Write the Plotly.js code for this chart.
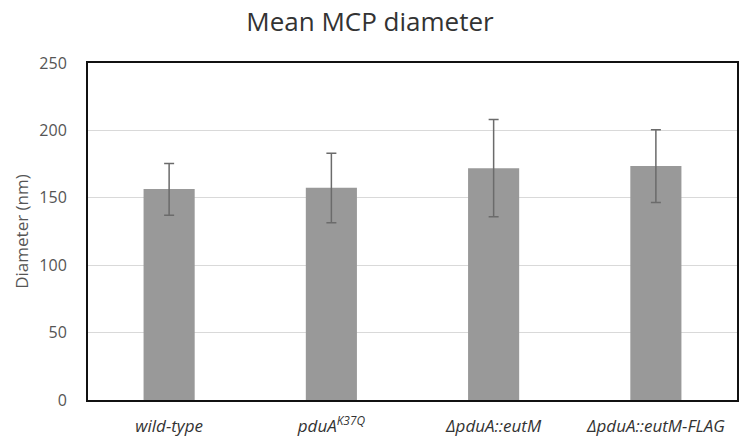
<!DOCTYPE html>
<html>
<head>
<meta charset="utf-8">
<script src="https://cdn.plot.ly/plotly-3.0.1.min.js"></script>
<style>html,body{margin:0;padding:0;background:#fff;}#chart{width:740px;height:437px;}</style>
</head>
<body>
<div id="chart"></div>
<script>
const categories = ["<i>wild-type</i>", "<i>pduA<sup>K37Q</sup></i>", "<i>ΔpduA::eutM</i>", "<i>ΔpduA::eutM-FLAG</i>"];
const meanDiameter = [156.5, 157.5, 172, 173.5];
const errPlus = [19, 25.5, 36, 27];
const errMinus = [19.5, 26, 36, 27];
const yTicks = [0, 50, 100, 150, 200, 250];

const trace = {
  type: 'bar',
  x: categories,
  y: meanDiameter,
  marker: {color: '#999999', line: {width: 0}},
  error_y: {type: 'data', symmetric: false, array: errPlus, arrayminus: errMinus, color: '#6b6b6b', thickness: 1.5, width: 5},
  hoverinfo: 'none'
};

const fontFam = '"Open Sans", sans-serif';
const layout = {
  width: 740, height: 437,
  margin: {l: 88, r: 3, t: 63, b: 37},
  paper_bgcolor: '#ffffff', plot_bgcolor: '#ffffff',
  showlegend: false,
  bargap: 0.685,
  title: {text: 'Mean MCP diameter', font: {family: fontFam, size: 26, color: '#333333'}, x: 0.5, xref: 'container', xanchor: 'center', y: 0.95, yref: 'container', yanchor: 'middle'},
  xaxis: {
    type: 'category',
    showline: true, mirror: true, linecolor: '#111111', linewidth: 2,
    showgrid: false, zeroline: false,
    ticks: 'outside', ticklen: 10, tickcolor: 'rgba(0,0,0,0)',
    tickfont: {family: fontFam, size: 17, color: '#333333'}
  },
  yaxis: {
    range: [0, 250], tickvals: yTicks, ticktext: yTicks.map(String),
    showline: true, mirror: true, linecolor: '#111111', linewidth: 2,
    showgrid: true, gridcolor: '#d9d9d9', gridwidth: 1, zeroline: false,
    ticks: 'outside', ticklen: 16, tickcolor: 'rgba(0,0,0,0)',
    tickfont: {family: fontFam, size: 16, color: '#555555'},
    title: {text: 'Diameter (nm)', font: {family: fontFam, size: 17, color: '#555555'}, standoff: 6}
  }
};

Plotly.newPlot('chart', [trace], layout, {staticPlot: true, displayModeBar: false});
</script>
</body>
</html>
